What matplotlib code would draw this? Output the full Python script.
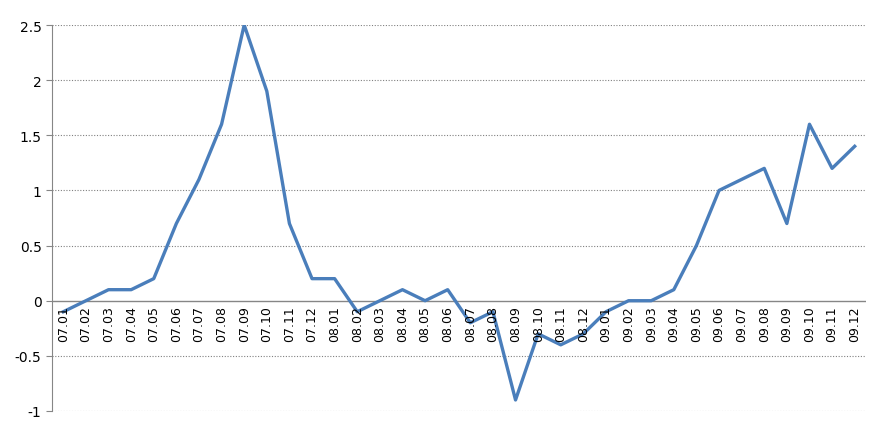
import matplotlib
matplotlib.use("Agg")
import matplotlib.pyplot as plt
import numpy as np

categories = [f"{y:02d}.{m:02d}" for y in (7, 8, 9) for m in range(1, 13)]
values = [-0.1, 0.0, 0.1, 0.1, 0.2, 0.7, 1.1, 1.6, 2.5, 1.9, 0.7, 0.2,
          0.2, -0.1, 0.0, 0.1, 0.0, 0.1, -0.2, -0.1, -0.9, -0.3, -0.4, -0.3,
          -0.1, 0.0, 0.0, 0.1, 0.5, 1.0, 1.1, 1.2, 0.7, 1.6, 1.2, 1.4]
yticks = [-1, -0.5, 0, 0.5, 1, 1.5, 2, 2.5]
ytick_labels = ["-1", "-0.5", "0", "0.5", "1", "1.5", "2", "2.5"]

fig = plt.figure(figsize=(8.85, 4.31), dpi=100)
ax = fig.add_axes([52/885, 19/431, 814/885, 386/431])
x = np.arange(len(categories))
ax.plot(x, values, color="#4A7EBB", lw=2.4, zorder=3)
ax.set_xlim(-0.5, len(categories) - 0.5)
ax.set_ylim(-1, 2.5)
ax.set_yticks(yticks)
ax.set_yticklabels(ytick_labels, fontsize=10)
for t in yticks:
    if t != 0:
        ax.axhline(t, color="#808080", lw=0.8, ls=(0, (1, 1.5)), zorder=1)
ax.axhline(0, color="#868686", lw=1, zorder=2)
ax.set_xticks([])
for i, c in enumerate(categories):
    ax.text(i, -0.04, c, rotation=90, ha="center", va="top", fontsize=9)
for s in ["top", "right", "bottom"]:
    ax.spines[s].set_visible(False)
ax.spines["left"].set_color("#868686")
ax.tick_params(axis="y", length=4, color="#868686")
fig.savefig("out.png", dpi=100)
